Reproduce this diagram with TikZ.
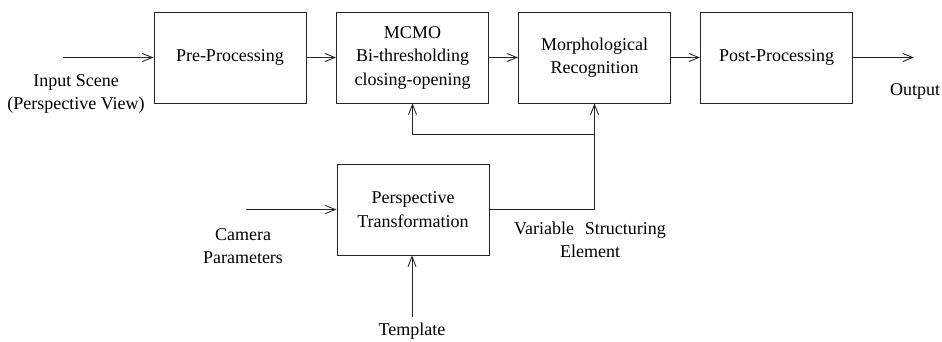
\documentclass[tikz,border=0pt]{standalone}
\usepackage{fontspec}
\setmainfont{Liberation Serif}
\usetikzlibrary{arrows.meta}
\begin{document}
\begin{tikzpicture}[x=1pt,y=-1pt,
  every node/.style={font=\fontsize{18}{23.5}\selectfont, inner sep=0pt},
  blockbox/.style={draw=black!85, line width=0.9pt, minimum width=152pt, minimum height=91pt, align=center},
  lbl/.style={align=center},
  conn/.style={draw=black!85, line width=0.9pt},
  arr/.style={conn, -{Straight Barb[length=10pt,width=8pt,line width=0.9pt]}}]
\useasboundingbox (0,0) rectangle (942,342);
\node[blockbox] (pre) at (230,57.5) {Pre-Processing};
\node[blockbox] (mcmo) at (412.5,57.5) {MCMO\\Bi-thresholding\\closing-opening};
\node[blockbox] (morph) at (594.5,57.5) {Morphological\\Recognition};
\node[blockbox] (post) at (776.5,57.5) {Post-Processing};
\node[blockbox] (persp) at (413,209.5) {Perspective\\Transformation};
\node[lbl] (inp) at (76,94) {Input Scene\\(Perspective View)};
\node[lbl] (outl) at (915,91) {Output};
\node[lbl] (cam) at (243,246) {Camera\\Parameters};
\node[lbl] (tpl) at (412,331) {Template};
\node[lbl] (vse) at (590,240) {Variable\hspace{0.6em}Structuring\\Element};
\coordinate (inS) at (63,57.5);
\coordinate (outE) at (914,57.5);
\coordinate (camS) at (246,209.5);
\coordinate (tplS) at (412,317);
\coordinate (junc) at (morph.south |- persp.east);
\coordinate (fb) at (junc |- 0,134);
\draw[arr] (inS) -- (pre.west);
\draw[arr] (pre.east) -- (mcmo.west);
\draw[arr] (mcmo.east) -- (morph.west);
\draw[arr] (morph.east) -- (post.west);
\draw[arr] (post.east) -- (outE);
\draw[arr] (camS) -- (persp.west);
\draw[arr] (tplS) -- (tplS |- persp.south);
\draw[arr] (persp.east) -- (junc) -- (morph.south);
\draw[arr] (fb) -- (mcmo.south |- fb) -- (mcmo.south);
\end{tikzpicture}
\end{document}
